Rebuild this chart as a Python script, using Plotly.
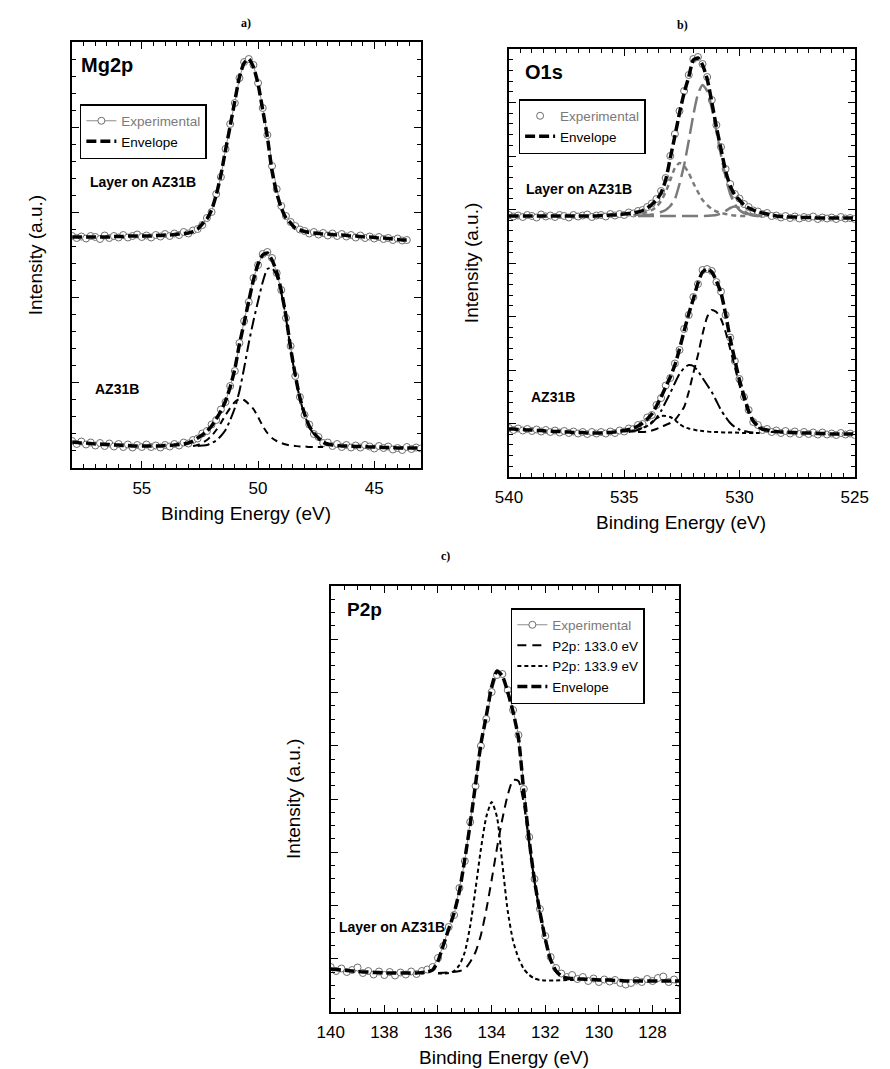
import plotly.graph_objects as go

W, H = 890, 1069
ARIAL = "Arial, Liberation Sans, Helvetica, sans-serif"
TIMES = "Times New Roman, Liberation Serif, serif"

# ---------------- Panel a) Mg2p ----------------
XA_UP = [58.0, 57.8, 57.6, 57.4, 57.2, 57.0, 56.8, 56.6, 56.4, 56.2,
         56.0, 55.8, 55.6, 55.4, 55.2, 55.0, 54.8, 54.6, 54.4, 54.2,
         54.0, 53.8, 53.6, 53.4, 53.2, 53.0, 52.8, 52.6, 52.4, 52.2,
         52.0, 51.8, 51.6, 51.4, 51.2, 51.0, 50.8, 50.6, 50.4, 50.2,
         50.0, 49.8, 49.6, 49.4, 49.2, 49.0, 48.8, 48.6, 48.4, 48.2,
         48.0, 47.8, 47.6, 47.4, 47.2, 47.0, 46.8, 46.6, 46.4, 46.2,
         46.0, 45.8, 45.6, 45.4, 45.2, 45.0, 44.8, 44.6, 44.4, 44.2,
         44.0, 43.8, 43.6]
ENV_A_UP = [231, 231, 231, 231, 231, 231, 231, 231, 231, 231.5,
            231.5, 231.5, 232, 232, 232, 232, 232, 232, 232.5, 232.5,
            233, 233, 233.5, 234, 234.5, 235, 236.5, 239, 244, 249,
            258, 273, 293, 318, 342, 367, 391, 405, 409, 401,
            384, 358, 331, 297, 275, 260, 250, 245, 240, 238,
            236.5, 235.5, 235, 234.5, 234, 234, 233.5, 233, 233, 232.5,
            232, 232, 231.5, 231, 231, 230.5, 230, 230, 229.5, 229,
            228.5, 228, 228]
EXP_A_UP = [232, 230, 231.5, 229.5, 232, 231, 229, 232.5, 230, 232,
            230.5, 233, 230.5, 232, 233.5, 231, 232.5, 230.5, 233, 231.5,
            234, 232, 234.5, 233, 236, 234.5, 237.5, 239, 243, 250,
            256, 274, 291, 319, 344, 365, 390, 406, 409, 403,
            385, 360, 333, 302, 279, 262, 252, 246, 242, 238.5,
            237, 234.5, 236, 233.5, 235, 232.5, 234.5, 232, 234, 231.5,
            233, 230.5, 232.5, 230, 231.5, 229.5, 231, 229, 230, 228,
            229.5, 227.5, 228]

XA_LO = XA_UP + [43.4, 43.2, 43.0]
ENV_A_LO = [26, 25.5, 25, 25, 24.5, 24, 24, 23.5, 23.5, 23,
            23, 22.5, 22.5, 22, 22, 22, 22, 22, 22, 22,
            22.5, 22.5, 23, 23.5, 24, 25, 27, 30, 33, 37,
            42, 49, 57, 67, 81, 99, 124, 145, 167, 188,
            204, 213, 215, 208, 196, 177, 152, 120, 93, 70,
            54, 42, 35, 30, 26, 24, 23, 22.5, 22, 22,
            22, 21.5, 21.5, 21.5, 21, 21, 21, 20.5, 20.5, 20.5,
            20, 20, 20, 20, 20, 20]
EXP_A_LO = [27, 24, 26.5, 23.5, 25.5, 22.5, 25, 22, 24.5, 21.5,
            24, 21, 23.5, 20.5, 23, 21, 23.5, 21, 22.5, 20.5,
            23, 21.5, 24, 22.5, 25.5, 24.5, 28, 29.5, 34.5, 37,
            43.5, 48, 58.5, 66, 82, 97, 125, 147, 166, 190,
            203, 214, 216, 210, 195, 178, 150, 122, 92, 71,
            53, 43.5, 34, 31, 25, 25.5, 22, 24, 21, 23,
            20.5, 22.5, 20.5, 23, 21.5, 19.5, 22, 20, 21.5, 18.5,
            20, 18, 21, 19, 20.5, 19.5]

XA_C1 = [52.6, 52.4, 52.2, 52.0, 51.8, 51.6, 51.4, 51.2, 51.0, 50.8,
         50.6, 50.4, 50.2, 50.0, 49.8, 49.6, 49.4, 49.2, 49.0, 48.8,
         48.6, 48.4, 48.2, 48.0, 47.8, 47.6, 47.4, 47.2, 47.0]
YA_C1 = [22, 22.5, 23, 25, 27.5, 32, 38, 48, 60, 77,
         100, 125, 147, 167, 186, 199, 200, 192, 175, 150,
         119, 92, 69, 53, 41, 34, 29, 25, 23]
XA_C2 = [52.8, 52.6, 52.4, 52.2, 52.0, 51.8, 51.6, 51.4, 51.2, 51.0,
         50.8, 50.6, 50.4, 50.2, 50.0, 49.8, 49.6, 49.4, 49.2, 49.0,
         48.8, 48.6, 48.4, 48.2, 48.0, 47.8, 47.6, 47.4, 47.2]
YA_C2 = [22, 23, 25, 28, 32, 38, 45, 53, 60, 66,
         69, 68, 64, 59, 51, 42, 35, 30, 27, 25,
         23.5, 22.5, 22, 21.5, 21.5, 21, 21, 21, 21]

# ---------------- Panel b) O1s ----------------
XB = [540.0, 539.8, 539.6, 539.4, 539.2, 539.0, 538.8, 538.6, 538.4, 538.2,
      538.0, 537.8, 537.6, 537.4, 537.2, 537.0, 536.8, 536.6, 536.4, 536.2,
      536.0, 535.8, 535.6, 535.4, 535.2, 535.0, 534.8, 534.6, 534.4, 534.2,
      534.0, 533.8, 533.6, 533.4, 533.2, 533.0, 532.8, 532.6, 532.4, 532.2,
      532.0, 531.8, 531.6, 531.4, 531.2, 531.0, 530.8, 530.6, 530.4, 530.2,
      530.0, 529.8, 529.6, 529.4, 529.2, 529.0, 528.8, 528.6, 528.4, 528.2,
      528.0, 527.8, 527.6, 527.4, 527.2, 527.0, 526.8, 526.6, 526.4, 526.2,
      526.0, 525.8, 525.6, 525.4, 525.2, 525.0]
ENV_B_UP = [261, 261, 261, 261, 261, 261, 261, 261, 261, 261,
            261, 261, 261, 261, 261, 261, 261, 261, 261, 261,
            261.5, 261.5, 262, 262, 262.5, 263, 263.5, 264, 265, 266.5,
            269, 272.5, 277, 284, 297, 319, 341, 364, 384, 400,
            417, 419, 412, 398, 375, 350, 328, 306, 291, 282,
            277, 272, 269, 267, 265, 264, 263, 262, 261, 260.5,
            260, 260, 260, 259.5, 259.5, 259.5, 259.5, 259, 259, 259,
            259, 259, 259, 259, 259, 259]
EXP_B_UP = [262, 260.5, 261.5, 260, 262, 261, 259.5, 262.5, 260.5, 261.5,
            260, 262, 261, 259.5, 262, 260.5, 261.5, 262.5, 260, 261.5,
            262, 260.5, 263, 261.5, 263, 262, 264.5, 263.5, 266, 267,
            270, 273.5, 278, 286, 299, 321, 343, 366, 386, 402,
            418, 420, 413, 400, 377, 352, 330, 308, 293, 283,
            278.5, 273, 270, 266.5, 265.5, 263, 264, 261, 261.5, 259.5,
            261, 259, 260.5, 258.5, 260, 259, 260.5, 258, 259.5, 258.5,
            259.5, 258, 260, 258.5, 259, 258]

XB_U1 = [534.4, 534.2, 534.0, 533.8, 533.6, 533.4, 533.2, 533.0, 532.8, 532.6,
         532.4, 532.2, 532.0, 531.8, 531.6, 531.4, 531.2, 531.0, 530.8, 530.6,
         530.4, 530.2, 530.0, 529.8, 529.6, 529.4, 529.2, 529.0]
YB_U1 = [261, 261.5, 262, 262.5, 263.5, 265, 267, 271, 278, 293,
         312, 336, 362, 383, 392, 386, 369, 346, 322, 300,
         283, 273, 267, 264, 262.5, 261.5, 261, 261]
XB_U2 = [534.6, 534.4, 534.2, 534.0, 533.8, 533.6, 533.4, 533.2, 533.0, 532.8,
         532.6, 532.4, 532.2, 532.0, 531.8, 531.6, 531.4, 531.2, 531.0, 530.8,
         530.6, 530.4, 530.2, 530.0, 529.8, 529.6]
YB_U2 = [261.5, 262.5, 263.5, 265, 267, 270, 276, 285, 297, 309,
         314, 311, 304, 294, 285, 277, 272, 268, 265.5, 264,
         263, 262, 261.5, 261, 261, 261]
XB_U3 = [534.4, 534.0, 533.6, 533.2, 532.8, 532.4, 532.0, 531.6, 531.2, 531.0,
         530.8, 530.6, 530.4, 530.2, 530.0, 529.8, 529.6, 529.4, 529.2]
YB_U3 = [261, 261, 261, 261, 261, 261, 261, 261, 261.5, 262,
         263.5, 266, 269, 270.5, 269, 266, 263, 261.5, 261]

ENV_B_LO = [48, 48, 47.5, 47.5, 47, 47, 46.5, 46.5, 46, 46,
            45.5, 45.5, 45, 45, 44.5, 44.5, 44.5, 44, 44, 44,
            44, 44.5, 44.5, 45, 45.5, 46.5, 47.5, 49, 51, 54,
            58, 63, 71, 80, 90, 100, 112, 128, 146, 163,
            178, 194, 205, 208, 205, 196, 184, 163, 138, 117,
            97, 81, 66, 56, 51, 48, 47, 46, 45.5, 45,
            45, 44.5, 44.5, 44, 44, 44, 44, 43.5, 43.5, 43.5,
            43, 43, 43, 43, 43, 43]
EXP_B_LO = [49, 47, 48.5, 46.5, 48, 46, 47.5, 45.5, 47, 45,
            46.5, 44.5, 46, 44, 45.5, 43.5, 45, 43, 45, 43.5,
            45, 43.5, 45.5, 44, 46.5, 45.5, 48.5, 48, 52, 53,
            59.5, 62, 72, 79, 91.5, 99, 113.5, 127, 148, 162,
            180, 193, 207, 208, 206, 195, 185.5, 162, 139.5, 116,
            98, 80, 67, 55, 52, 47, 48, 45, 46.5, 44,
            46, 43.5, 45.5, 43, 45, 43, 44.5, 42.5, 44.5, 42.5,
            43.5, 42, 44, 42.5, 43.5, 42]

XB_L1 = [534.4, 534.2, 534.0, 533.8, 533.6, 533.4, 533.2, 533.0, 532.8, 532.6,
         532.4, 532.2, 532.0, 531.8, 531.6, 531.4, 531.2, 531.0, 530.8, 530.6,
         530.4, 530.2, 530.0, 529.8, 529.6, 529.4, 529.2, 529.0, 528.8, 528.6, 528.4]
YB_L1 = [45, 45, 45.5, 46.5, 48, 50, 52, 54, 57, 63,
         70, 85, 104, 122, 143, 160, 167, 165, 158, 145,
         128, 110, 92, 77, 64, 55, 50, 47, 46, 45, 45]
XB_L2 = [534.8, 534.6, 534.4, 534.2, 534.0, 533.8, 533.6, 533.4, 533.2, 533.0,
         532.8, 532.6, 532.4, 532.2, 532.0, 531.8, 531.6, 531.4, 531.2, 531.0,
         530.8, 530.6, 530.4, 530.2, 530.0, 529.8, 529.6, 529.4]
YB_L2 = [45, 46, 47, 49, 51, 54, 59, 66, 75, 84,
         94, 103, 109, 112, 111, 106, 99, 92, 85, 76,
         67, 60, 54, 50, 47.5, 46, 45, 44.5]
XB_L3 = [535.0, 534.8, 534.6, 534.4, 534.2, 534.0, 533.8, 533.6, 533.4, 533.2,
         533.0, 532.8, 532.6, 532.4, 532.2, 532.0, 531.8, 531.6, 531.4, 531.2,
         531.0, 530.6, 530.2, 529.8, 529.4, 529.0]
YB_L3 = [45.5, 46, 46.5, 47.5, 49, 51, 55, 58.5, 61, 61,
         60, 57, 53, 50, 48.5, 47.5, 46.5, 46, 45.5, 45,
         45, 44.5, 44.5, 44, 44, 44]

# ---------------- Panel c) P2p ----------------
XC = [140.0, 139.8, 139.6, 139.4, 139.2, 139.0, 138.8, 138.6, 138.4, 138.2,
      138.0, 137.8, 137.6, 137.4, 137.2, 137.0, 136.8, 136.6, 136.4, 136.2,
      136.0, 135.8, 135.6, 135.4, 135.2, 135.0, 134.8, 134.6, 134.4, 134.2,
      134.0, 133.8, 133.6, 133.4, 133.2, 133.0, 132.8, 132.6, 132.4, 132.2,
      132.0, 131.8, 131.6, 131.4, 131.2, 131.0, 130.8, 130.6, 130.4, 130.2,
      130.0, 129.8, 129.6, 129.4, 129.2, 129.0, 128.8, 128.6, 128.4, 128.2,
      128.0, 127.8, 127.6, 127.4, 127.2, 127.0]
ENV_C = [43, 42.5, 42, 41.5, 41, 40.5, 40, 40, 39.5, 39.5,
         39, 39, 39, 39, 39, 39, 39, 39.5, 40, 42,
         51, 67, 83, 99, 121, 153, 188, 228, 268, 296,
         325, 341, 336, 320, 300, 274, 220, 172, 131, 100,
         73, 52, 41, 36, 34, 33.5, 33, 33, 32.5, 32.5,
         32, 32, 32, 31.5, 31.5, 31, 31, 31, 31, 31,
         31, 31, 31, 31, 31, 31]
EXP_C = [45, 41, 43.5, 40, 42, 44.5, 39, 41, 37.5, 40.5,
         37, 40, 36.5, 39.5, 37.5, 40.5, 38, 41, 42.5, 45,
         54, 66, 85, 97, 124, 151, 190, 226, 266, 293,
         320, 337, 338, 322, 302, 277, 223, 175, 133, 103,
         76, 55, 44, 38.5, 35, 37, 33, 35, 31, 33.5,
         30, 32.5, 30.5, 32, 29, 27.5, 29, 31.5, 30, 33,
         31, 34, 35.5, 30, 32.5, 29]
XC_1 = [136.0, 135.6, 135.2, 135.0, 134.8, 134.6, 134.4, 134.2, 134.0, 133.8,
        133.6, 133.4, 133.2, 133.0, 132.8, 132.6, 132.4, 132.2, 132.0, 131.8,
        131.6, 131.4, 131.2, 131.0]
YC_1 = [39, 39.5, 41, 43, 50, 60, 77, 102, 132, 164,
        193, 217, 232, 231, 208, 168, 130, 99, 72, 51,
        40, 35, 33.5, 33]
XC_2 = [136.0, 135.8, 135.6, 135.4, 135.2, 135.0, 134.8, 134.6, 134.4, 134.2,
        134.0, 133.8, 133.6, 133.4, 133.2, 133.0, 132.8, 132.6, 132.4, 132.2,
        132.0, 131.6, 131.2, 130.8]
YC_2 = [38.5, 38.5, 39, 41, 47, 60, 86, 123, 163, 195,
        210, 195, 148, 101, 71, 54, 43, 37, 33.5, 32,
        31.5, 31.5, 32, 32]

# ---------------- figure ----------------
EXP_LINE = "#8c8c8c"
EXP_EDGE = "#6e6e6e"
GRAY = "#7a7a7a"
fig = go.Figure()


def exp_trace(x, y, xa, ya, leg, show, mode="lines+markers"):
    return go.Scatter(
        x=x, y=y, xaxis=xa, yaxis=ya, mode=mode, legend=leg, showlegend=show,
        name="<span style='color:#7a7a7a'>Experimental</span>",
        line=dict(color=EXP_LINE, width=1),
        marker=dict(symbol="circle", size=7, color="white",
                    line=dict(color=EXP_EDGE, width=1)))


def line_trace(x, y, xa, ya, leg, name, dash, width, color="black", show=False):
    return go.Scatter(x=x, y=y, xaxis=xa, yaxis=ya, mode="lines", legend=leg,
                      showlegend=show, name=name,
                      line=dict(color=color, width=width, dash=dash, shape="spline",
                                smoothing=0.6))


ENV_DASH = "10px,4px"
# panel a
fig.add_trace(exp_trace(XA_UP, EXP_A_UP, "x", "y", "legend", True))
fig.add_trace(exp_trace(XA_LO, EXP_A_LO, "x", "y", "legend", False))
fig.add_trace(line_trace(XA_C1, YA_C1, "x", "y", "legend", "c1", "12px,4px,3px,4px", 2))
fig.add_trace(line_trace(XA_C2, YA_C2, "x", "y", "legend", "c2", "7px,5px", 2))
fig.add_trace(line_trace(XA_UP, ENV_A_UP, "x", "y", "legend", "Envelope", ENV_DASH, 3.5, show=True))
fig.add_trace(line_trace(XA_LO, ENV_A_LO, "x", "y", "legend", "Envelope", ENV_DASH, 3.5))

# panel b
fig.add_trace(exp_trace(XB, EXP_B_UP, "x2", "y2", "legend2", True, mode="markers"))
fig.add_trace(exp_trace(XB, EXP_B_LO, "x2", "y2", "legend2", False, mode="markers"))
fig.add_trace(line_trace(XB_U3, YB_U3, "x2", "y2", "legend2", "u3", "16px,6px", 2.5, color=GRAY))
fig.add_trace(line_trace(XB_U1, YB_U1, "x2", "y2", "legend2", "u1", "16px,6px", 2.5, color=GRAY))
fig.add_trace(line_trace(XB_U2, YB_U2, "x2", "y2", "legend2", "u2", "5px,4px", 2.5, color=GRAY))
fig.add_trace(line_trace(XB_L1, YB_L1, "x2", "y2", "legend2", "l1", "8px,5px", 2))
fig.add_trace(line_trace(XB_L2, YB_L2, "x2", "y2", "legend2", "l2", "12px,4px,3px,4px", 2))
fig.add_trace(line_trace(XB_L3, YB_L3, "x2", "y2", "legend2", "l3", "4px,3px", 2))
fig.add_trace(line_trace(XB, ENV_B_UP, "x2", "y2", "legend2", "Envelope", ENV_DASH, 3.5, show=True))
fig.add_trace(line_trace(XB, ENV_B_LO, "x2", "y2", "legend2", "Envelope", ENV_DASH, 3.5))

# panel c
fig.add_trace(exp_trace(XC, EXP_C, "x3", "y3", "legend3", True))
fig.add_trace(line_trace(XC_1, YC_1, "x3", "y3", "legend3", "P2p: 133.0 eV", "9px,6px", 2, show=True))
fig.add_trace(line_trace(XC_2, YC_2, "x3", "y3", "legend3", "P2p: 133.9 eV", "4px,3px", 2, show=True))
fig.add_trace(line_trace(XC, ENV_C, "x3", "y3", "legend3", "Envelope", ENV_DASH, 3.5, show=True))


def dom_x(a, b):
    return [a / W, b / W]


def dom_y(top, bottom):
    return [1 - bottom / H, 1 - top / H]


AX = dict(showline=True, linecolor="black", linewidth=2, mirror="ticks",
          ticks="inside", ticklen=7, tickwidth=1, tickcolor="black",
          showgrid=False, zeroline=False, fixedrange=True,
          tickfont=dict(family=ARIAL, size=17, color="black"))


def xax(dom, rng, dtick, anchor):
    return dict(AX, domain=dom, range=rng, anchor=anchor, tick0=0, dtick=dtick,
                ticklabelstandoff=4,
                minor=dict(ticks="inside", ticklen=4, tickwidth=1, tickcolor="black",
                           tick0=0, dtick=0.5))


def yax(dom, rng, dtick, mdtick, anchor):
    return dict(AX, domain=dom, range=rng, anchor=anchor, tick0=0, dtick=dtick,
                showticklabels=False,
                minor=dict(ticks="inside", ticklen=4, tickwidth=1, tickcolor="black",
                           tick0=0, dtick=mdtick))


LEG = dict(bgcolor="white", bordercolor="black", borderwidth=1.5,
           font=dict(family=ARIAL, size=13.5, color="black"),
           xanchor="left", yanchor="top", tracegroupgap=0, itemwidth=30,
           itemclick=False, itemdoubleclick=False)

annots = []


def ann(text, x, y, size, xanchor="left", yanchor="middle", family=ARIAL, angle=0):
    annots.append(dict(text=text, x=x / W, y=1 - y / H, xref="paper", yref="paper",
                       showarrow=False, xanchor=xanchor, yanchor=yanchor,
                       textangle=angle, font=dict(family=family, size=size, color="black")))


# panel labels
ann("<b>a)</b>", 240, 23, 12, xanchor="center", family=TIMES)
ann("<b>b)</b>", 690, 25, 12, xanchor="center", family=TIMES)
ann("<b>c)</b>", 445, 556, 12, xanchor="center", family=TIMES)
# in-plot labels
ann("<b>Mg2p</b>", 67, 65, 20)
ann("<b>Layer on AZ31B</b>", 76, 182, 14)
ann("<b>AZ31B</b>", 82, 389, 14)
ann("<b>O1s</b>", 526, 72, 20)
ann("<b>Layer on AZ31B</b>", 527, 189, 14)
ann("<b>AZ31B</b>", 532, 397, 14)
ann("<b>P2p</b>", 342, 609, 19)
ann("<b>Layer on AZ31B</b>", 334, 927, 14)
# axis titles
ann("Binding Energy (eV)", 240, 513, 19, xanchor="center")
ann("Binding Energy (eV)", 689, 522, 19, xanchor="center")
ann("Binding Energy (eV)", 506, 1057, 19, xanchor="center")
ann("Intensity (a.u.)", 23, 255, 19, xanchor="center", angle=-90)
ann("Intensity (a.u.)", 472, 263, 19, xanchor="center", angle=-90)
ann("Intensity (a.u.)", 288, 799, 19, xanchor="center", angle=-90)

fig.update_layout(
    width=W, height=H, autosize=False,
    margin=dict(l=0, r=0, t=0, b=0),
    paper_bgcolor="white", plot_bgcolor="white",
    xaxis=xax(dom_x(60, 420), [58, 43], 5, "y"),
    yaxis=yax(dom_y(42, 468), [0, 426], 85.2, 17.04, "x"),
    xaxis2=xax(dom_x(511, 868), [540, 525], 5, "y2"),
    yaxis2=yax(dom_y(49, 477), [0, 428], 53.5, 10.7, "x2"),
    xaxis3=xax(dom_x(327, 687), [140, 127], 2, "y3"),
    yaxis3=yax(dom_y(586, 1012), [0, 426], 53.25, 13.3125, "x3"),
    legend=dict(LEG, x=68 / W, y=1 - 104 / H),
    legend2=dict(LEG, x=521 / W, y=1 - 99 / H),
    legend3=dict(LEG, x=513 / W, y=1 - 608 / H),
    annotations=annots,
    showlegend=True,
)

fig.write_html("out.html")
